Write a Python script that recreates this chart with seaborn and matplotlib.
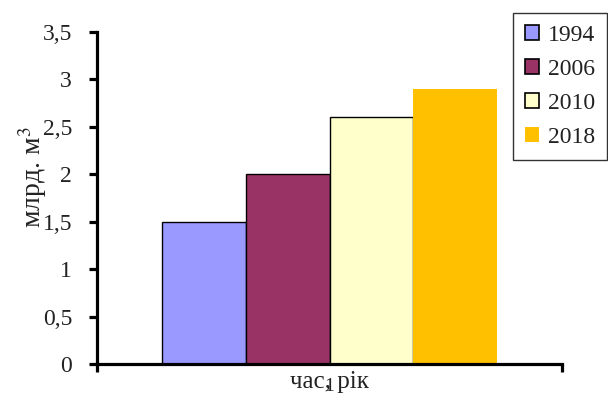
import numpy as np
import pandas as pd
import matplotlib
matplotlib.use('Agg')
import matplotlib.pyplot as plt
import seaborn as sns

# данные графика
categories = ['1']
years = ['1994', '2006', '2010', '2018']
values = [1.5, 2.0, 2.6, 2.9]
colors = ['#9999FF', '#993366', '#FFFFCC', '#FFC000']
y_ticks = [0, 0.5, 1, 1.5, 2, 2.5, 3, 3.5]
y_tick_labels = ['0', '0,5', '1', '1,5', '2', '2,5', '3', '3,5']

df = pd.DataFrame({
    'cat': categories * len(years),
    'year': years,
    'val': values,
})

sns.set_style('white')
plt.rcParams['font.family'] = ['Liberation Serif', 'DejaVu Serif']
plt.rcParams['mathtext.fontset'] = 'stix'

fig = plt.figure(figsize=(6.08, 3.97), dpi=100)
ax = fig.add_axes([97 / 608, 1 - 364 / 397, 465 / 608, 332 / 397])

sns.barplot(data=df, x='cat', y='val', hue='year', palette=colors,
            saturation=1, width=0.72, gap=0, edgecolor='black', linewidth=1.0,
            legend=False, ax=ax)

# у 2018 нет рамки
for bar in ax.containers[3]:
    bar.set_edgecolor('none')

ax.set_xlim(-0.5, 0.5)
ax.set_ylim(0, 3.5)
ax.set_yticks(y_ticks)
ax.set_yticklabels(y_tick_labels, fontsize=17)
ax.set_xticks([0])
ax.set_xticklabels(categories, fontsize=14)
ax.set_xticks([-0.5, 0.5], minor=True)

for side in ['top', 'right']:
    ax.spines[side].set_visible(False)
for side in ['left', 'bottom']:
    ax.spines[side].set_linewidth(2.3)
    ax.spines[side].set_color('black')

ax.tick_params(axis='y', which='major', left=True, direction='out', length=6,
               width=2.3, color='black', pad=12, labelcolor='#222222')
ax.tick_params(axis='x', which='major', bottom=True, length=0, pad=10,
               labelcolor='#222222')
ax.tick_params(axis='x', which='minor', bottom=True, direction='out', length=6,
               width=2.3, color='black')

ax.set_xlabel('час, рік', fontsize=18, color='#222222')
ax.xaxis.set_label_coords(0.5, -0.022)
ax.set_ylabel('млрд. м$^3$', fontsize=20, color='#222222')
ax.yaxis.set_label_coords(-0.104, 0.563)

handles = [plt.Rectangle((0, 0), 1, 1, facecolor=c,
                         edgecolor='black' if y != '2018' else 'none', linewidth=1.2)
           for c, y in zip(colors, years)]
leg = fig.legend(handles, years, loc='upper left',
                 bbox_to_anchor=(513 / 608, 1 - 13 / 397),
                 fontsize=17, frameon=True, fancybox=False,
                 handlelength=0.6, handleheight=0.6, handletextpad=0.4,
                 labelspacing=0.55, borderpad=0.5, borderaxespad=0)
leg.get_frame().set_edgecolor('black')
leg.get_frame().set_linewidth(1.0)
for t in leg.get_texts():
    t.set_color('#222222')

fig.savefig('out.png', dpi=100)
plt.close(fig)
